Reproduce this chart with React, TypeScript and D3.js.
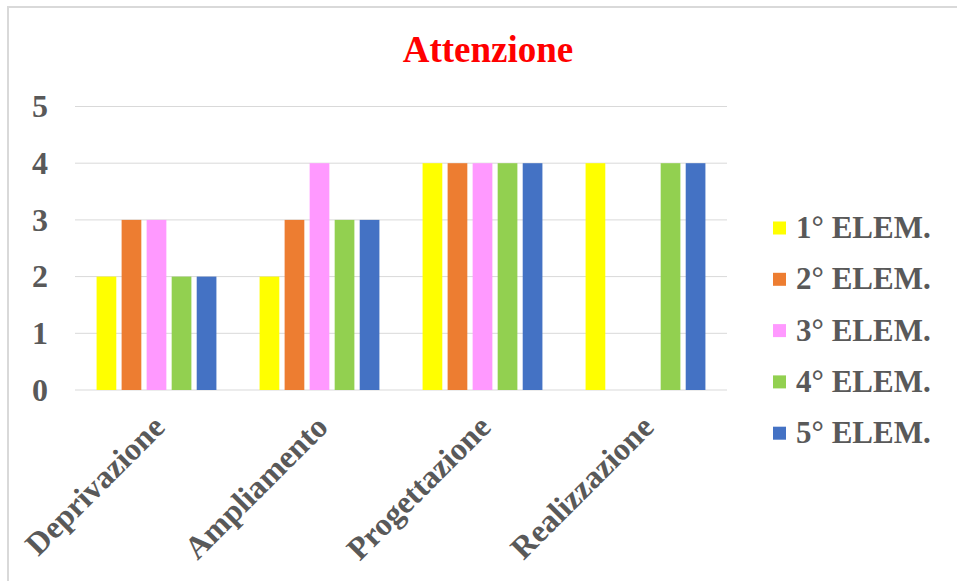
import React from "react";
import * as d3 from "d3";

const title = "Attenzione";
const categories = ["Deprivazione", "Ampliamento", "Progettazione", "Realizzazione"];
const seriesNames = ["1° ELEM.", "2° ELEM.", "3° ELEM.", "4° ELEM.", "5° ELEM."];
const seriesColors = ["#FFFF00", "#ED7D31", "#FF99FF", "#92D050", "#4472C4"];
const elem1 = [2, 2, 4, 4];
const elem2 = [3, 3, 4, 0];
const elem3 = [3, 4, 4, 0];
const elem4 = [2, 3, 4, 4];
const elem5 = [2, 3, 4, 4];
const yTicks = [0, 1, 2, 3, 4, 5];

const seriesValues = [elem1, elem2, elem3, elem4, elem5];

const W = 957;
const H = 581;
const plotLeft = 75;
const plotRight = 727;
const plotTop = 106.5;
const plotBottom = 390;
const textColor = "#595959";
const font = "'Liberation Serif', 'Times New Roman', serif";

export default function App() {
  const x = d3.scaleBand<string>().domain(categories).range([plotLeft, plotRight]).paddingInner(0).paddingOuter(0);
  const y = d3.scaleLinear().domain([0, 5]).range([plotBottom, plotTop]);
  const bw = x.bandwidth();
  const barW = bw / 8.27;
  const step = barW * 1.27;
  const groupW = barW * 5 + barW * 0.27 * 4;

  return (
    <svg width={W} height={H} style={{ position: "absolute", left: 0, top: 0, background: "#fff" }}>
      <rect x={0} y={0} width={W} height={H} fill="#fff" />
      <rect x={8} y={7} width={W + 20} height={H + 20} fill="none" stroke="#d9d9d9" strokeWidth={2} />
      <text x={488} y={62} textAnchor="middle" fill="#FF0000" fontFamily={font} fontWeight="bold" fontSize={37}>
        {title}
      </text>
      {yTicks.map((t) => (
        <g key={t}>
          <line x1={plotLeft} x2={plotRight} y1={y(t)} y2={y(t)} stroke="#d9d9d9" strokeWidth={1} />
          <text x={48} y={y(t) + 10.8} textAnchor="end" fill={textColor} fontFamily={font} fontWeight="bold" fontSize={32}>
            {t}
          </text>
        </g>
      ))}
      {categories.map((c, ci) => {
        const gx = (x(c) as number) + (bw - groupW) / 2;
        return (
          <g key={c}>
            {seriesValues.map((vals, si) =>
              vals[ci] > 0 ? (
                <rect
                  key={si}
                  x={gx + si * step}
                  y={y(vals[ci])}
                  width={barW}
                  height={plotBottom - y(vals[ci])}
                  fill={seriesColors[si]}
                />
              ) : null
            )}
          </g>
        );
      })}
      {categories.map((c) => {
        const cx = (x(c) as number) + bw / 2 + 10;
        const cy = 429;
        return (
          <text
            key={c}
            x={cx}
            y={cy}
            transform={`rotate(-45 ${cx} ${cy})`}
            textAnchor="end"
            fill={textColor}
            fontFamily={font}
            fontWeight="bold"
            fontSize={32}
          >
            {c}
          </text>
        );
      })}
      {seriesNames.map((n, i) => {
        const ly = 228 + i * 51.3;
        return (
          <g key={n}>
            <rect x={773} y={ly - 6.5} width={13} height={13} fill={seriesColors[i]} />
            <text x={796} y={ly + 10} fill={textColor} fontFamily={font} fontWeight="bold" fontSize={31}>
              {n}
            </text>
          </g>
        );
      })}
    </svg>
  );
}
